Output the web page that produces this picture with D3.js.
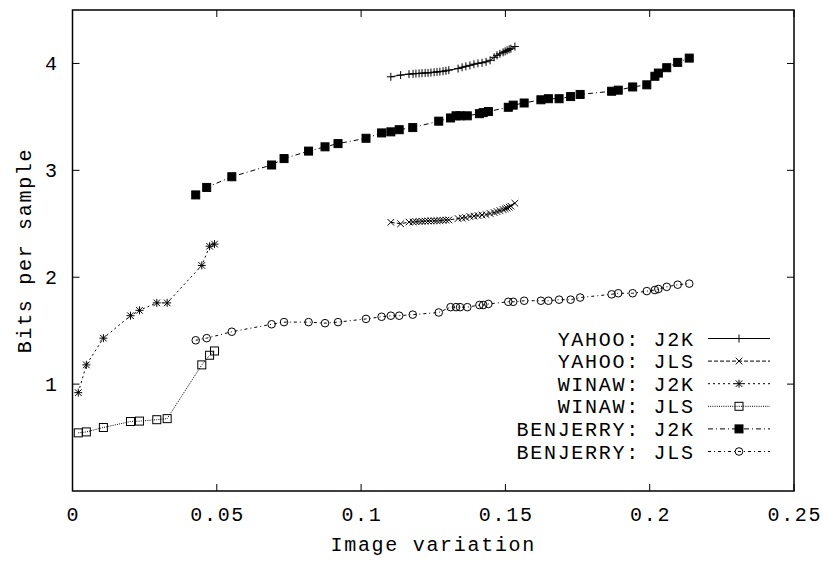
<!DOCTYPE html>
<html>
<head>
<meta charset="utf-8">
<script src="https://cdn.jsdelivr.net/npm/d3@7"></script>
<style>
  body { margin: 0; background: #fff; }
  text { font-family: "Courier New", Courier, "Liberation Mono", monospace; fill: #000; letter-spacing: 1.7px; }
</style>
</head>
<body>
<div id="chart"></div>
<script>
// Chart data

const xTicks = [0, 0.05, 0.1, 0.15, 0.2, 0.25];
const xTickLabels = ['0', '0.05', '0.1', '0.15', '0.2', '0.25'];
const yTicks = [1, 2, 3, 4];
const yTickLabels = ['1', '2', '3', '4'];

const yahooX = [0.1103, 0.1137, 0.1166, 0.1180, 0.1190, 0.1201, 0.1211, 0.1222, 0.1232, 0.1242,
  0.1253, 0.1263, 0.1273, 0.1284, 0.1294, 0.1304, 0.1336, 0.1350, 0.1363, 0.1377, 0.1391,
  0.1405, 0.1419, 0.1433, 0.1447, 0.1461, 0.1471, 0.1481, 0.1492, 0.1499, 0.1506, 0.1513,
  0.1519, 0.1533];
const yahooJ2K = [3.875, 3.891, 3.900, 3.903, 3.905, 3.907, 3.909, 3.911, 3.912, 3.915,
  3.918, 3.921, 3.923, 3.927, 3.931, 3.937, 3.952, 3.964, 3.973, 3.982, 3.993,
  4.001, 4.006, 4.015, 4.029, 4.057, 4.076, 4.090, 4.104, 4.113, 4.122, 4.132,
  4.138, 4.158];
const yahooJLS = [2.514, 2.500, 2.516, 2.518, 2.520, 2.521, 2.523, 2.525, 2.526, 2.527,
  2.528, 2.529, 2.530, 2.532, 2.534, 2.536, 2.549, 2.554, 2.558, 2.568, 2.572,
  2.577, 2.582, 2.586, 2.596, 2.605, 2.614, 2.623, 2.633, 2.642, 2.647, 2.656,
  2.665, 2.692];

const winawX = [0.0020, 0.0048, 0.0107, 0.0201, 0.0232, 0.0292, 0.0328, 0.0448, 0.0475, 0.0492];
const winawJ2K = [0.92, 1.18, 1.43, 1.64, 1.69, 1.76, 1.76, 2.11, 2.29, 2.31];
const winawJLS = [0.544, 0.553, 0.594, 0.650, 0.654, 0.667, 0.677, 1.18, 1.27, 1.31];

const benjerryX = [0.0427, 0.0465, 0.0552, 0.0690, 0.0733, 0.0818, 0.0875, 0.0920, 0.1017, 0.1071,
  0.1103, 0.1132, 0.1179, 0.1269, 0.1310, 0.1329, 0.1343, 0.1368, 0.1410, 0.1423,
  0.1441, 0.1510, 0.1527, 0.1565, 0.1623, 0.1649, 0.1686, 0.1726, 0.1759, 0.1868,
  0.1891, 0.1941, 0.1990, 0.2018, 0.2030, 0.2059, 0.2097, 0.2137];
const benjerryJ2K = [2.77, 2.84, 2.94, 3.05, 3.11, 3.18, 3.22, 3.25, 3.30, 3.35,
  3.36, 3.38, 3.40, 3.46, 3.49, 3.51, 3.51, 3.51, 3.53, 3.54,
  3.55, 3.59, 3.61, 3.63, 3.66, 3.67, 3.67, 3.69, 3.71, 3.74,
  3.75, 3.78, 3.80, 3.88, 3.91, 3.96, 4.01, 4.05];
const benjerryJLS = [1.41, 1.43, 1.49, 1.56, 1.58, 1.58, 1.57, 1.58, 1.61, 1.63,
  1.64, 1.64, 1.65, 1.67, 1.72, 1.72, 1.72, 1.72, 1.74, 1.74,
  1.75, 1.77, 1.77, 1.78, 1.78, 1.78, 1.79, 1.79, 1.81, 1.84,
  1.85, 1.85, 1.87, 1.88, 1.89, 1.91, 1.93, 1.94];

const seriesNames = ['YAHOO: J2K', 'YAHOO: JLS', 'WINAW: J2K', 'WINAW: JLS', 'BENJERRY: J2K', 'BENJERRY: JLS'];
const seriesX = [yahooX, yahooX, winawX, winawX, benjerryX, benjerryX];
const seriesY = [yahooJ2K, yahooJLS, winawJ2K, winawJLS, benjerryJ2K, benjerryJLS];
const seriesDash = [null, '4,2', '2,3', '1,1.2', '5,3,1,3', '3,3,1,3'];
const seriesMarker = ['plus', 'cross', 'star', 'box', 'boxfill', 'circle'];

const W = 822, H = 562;
const margin = { top: 10, right: 28, bottom: 71, left: 72.5 };
const FONT = 20;
const LS = 1.7; // letter spacing, widens the mono face to the reference's advance

const svg = d3.select('#chart').append('svg')
  .attr('width', W)
  .attr('height', H);

const x = d3.scaleLinear().domain([0, 0.25]).range([margin.left, W - margin.right]);
const y = d3.scaleLinear().domain([0, 4.5]).range([H - margin.bottom, margin.top]);

// markers, gnuplot style
function drawMarker(g, kind, cx, cy) {
  const s = 4;
  if (kind === 'plus' || kind === 'star') {
    g.append('path').attr('d', `M${cx - s},${cy}H${cx + s}M${cx},${cy - s}V${cy + s}`)
      .attr('stroke', '#000').attr('stroke-width', 1).attr('fill', 'none');
  }
  if (kind === 'cross' || kind === 'star') {
    const c = 3.3;
    g.append('path').attr('d', `M${cx - c},${cy - c}L${cx + c},${cy + c}M${cx - c},${cy + c}L${cx + c},${cy - c}`)
      .attr('stroke', '#000').attr('stroke-width', 1).attr('fill', 'none');
  }
  if (kind === 'box' || kind === 'boxfill') {
    g.append('rect').attr('x', cx - 4).attr('y', cy - 4).attr('width', 8).attr('height', 8)
      .attr('stroke', '#000').attr('stroke-width', 1)
      .attr('fill', kind === 'boxfill' ? '#000' : 'none');
  }
  if (kind === 'circle') {
    g.append('circle').attr('cx', cx).attr('cy', cy).attr('r', 3.8)
      .attr('stroke', '#000').attr('stroke-width', 1).attr('fill', 'none');
  }
}

// axes: ticks inside on all four sides
const plot = svg.append('g');
const xt = plot.append('g');
xTicks.forEach((t, i) => {
  xt.append('line').attr('x1', x(t)).attr('x2', x(t))
    .attr('y1', y(0)).attr('y2', y(0) - 7).attr('stroke', '#000');
  xt.append('line').attr('x1', x(t)).attr('x2', x(t))
    .attr('y1', y(4.5)).attr('y2', y(4.5) + 7).attr('stroke', '#000');
  xt.append('text').attr('x', x(t) + LS / 2).attr('y', y(0) + 30)
    .attr('text-anchor', 'middle').attr('font-size', FONT).text(xTickLabels[i]);
});
const yt = plot.append('g');
yTicks.forEach((t, i) => {
  yt.append('line').attr('x1', x(0)).attr('x2', x(0) + 7)
    .attr('y1', y(t)).attr('y2', y(t)).attr('stroke', '#000');
  yt.append('line').attr('x1', x(0.25)).attr('x2', x(0.25) - 7)
    .attr('y1', y(t)).attr('y2', y(t)).attr('stroke', '#000');
  yt.append('text').attr('x', 57 + LS).attr('y', y(t) + 7)
    .attr('text-anchor', 'end').attr('font-size', FONT).text(yTickLabels[i]);
});

// series
const line = d3.line().x(d => x(d[0])).y(d => y(d[1]));
seriesNames.forEach((name, k) => {
  const pts = seriesX[k].map((v, i) => [v, seriesY[k][i]]);
  const g = plot.append('g');
  g.append('path').datum(pts).attr('d', line)
    .attr('fill', 'none').attr('stroke', '#000').attr('stroke-width', 1)
    .attr('stroke-dasharray', seriesDash[k]);
  pts.forEach(p => drawMarker(g, seriesMarker[k], x(p[0]), y(p[1])));
});

// legend
const leg = svg.append('g');
seriesNames.forEach((name, k) => {
  const cy = 338.5 + k * 22.6;
  leg.append('text').attr('x', 693 + LS).attr('y', cy + 7)
    .attr('text-anchor', 'end').attr('font-size', FONT).text(name);
  leg.append('line').attr('x1', 708).attr('x2', 770).attr('y1', cy).attr('y2', cy)
    .attr('stroke', '#000').attr('stroke-width', 1).attr('stroke-dasharray', seriesDash[k]);
  drawMarker(leg, seriesMarker[k], 739, cy);
});

// frame
svg.append('rect')
  .attr('x', x(0)).attr('y', y(4.5))
  .attr('width', x(0.25) - x(0)).attr('height', y(0) - y(4.5))
  .attr('fill', 'none').attr('stroke', '#000').attr('stroke-width', 1.5);

// axis titles
svg.append('text').attr('x', (x(0) + x(0.25)) / 2).attr('y', 551)
  .attr('text-anchor', 'middle').attr('font-size', FONT).text('Image variation');
svg.append('text')
  .attr('transform', `translate(31,${(y(0) + y(4.5)) / 2}) rotate(-90)`)
  .attr('text-anchor', 'middle').attr('font-size', FONT).text('Bits per sample');
</script>
</body>
</html>
